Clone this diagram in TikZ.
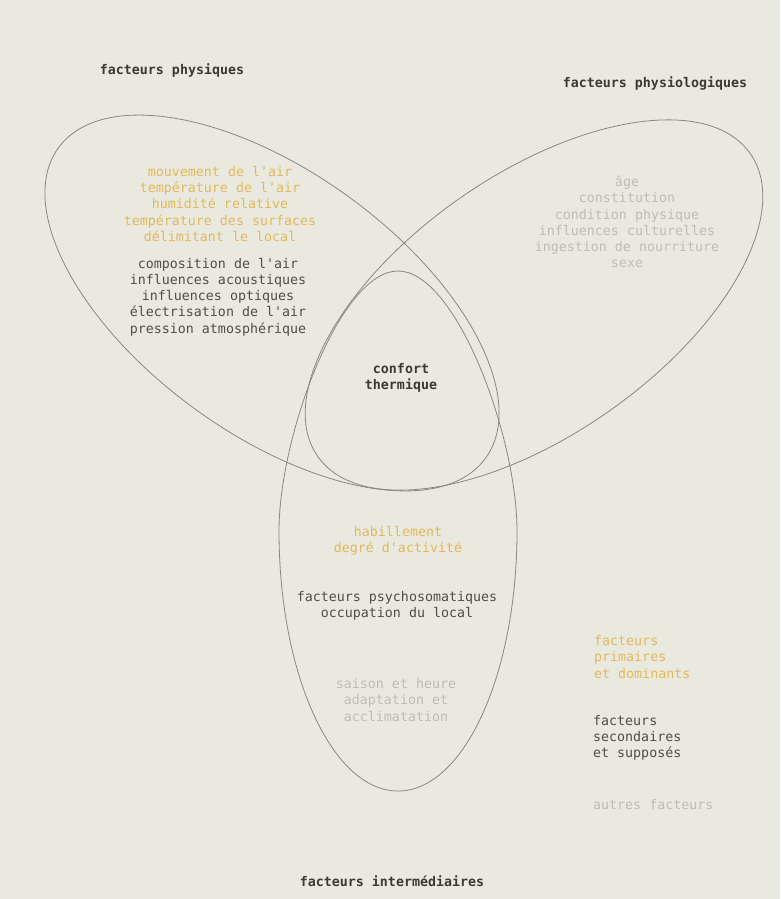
\documentclass[tikz,border=0pt]{standalone}
\usepackage{fontspec}
\setmonofont{DejaVu Sans Mono}
\definecolor{paper}{HTML}{EAE9E0}
\definecolor{linec}{HTML}{8C8778}
\definecolor{primc}{HTML}{E1B95A}
\definecolor{secc}{HTML}{504E46}
\definecolor{othc}{HTML}{BEBCB4}
\definecolor{titlec}{HTML}{3C3A32}
\begin{document}
\begin{tikzpicture}[x=1pt,y=-1pt,
  shapeline/.style={draw=linec, line width=0.8pt},
  body/.style={font=\fontsize{13.3}{16.2}\selectfont\ttfamily, inner sep=0pt, align=center},
  ttl/.style={font=\fontsize{13.3}{16.2}\selectfont\ttfamily\bfseries, inner sep=0pt, text=titlec},
  prim/.style={body, text=primc},
  sec/.style={body, text=secc},
  oth/.style={body, text=othc}]
\fill[paper] (0,0) rectangle (780,899);
\useasboundingbox (0,0) rectangle (780,899);
% left ellipse (physical factors)
\draw[shapeline, rotate around={-36:(272,303)}] (272,303) ellipse[x radius=264, y radius=131];
% right ellipse (physiological factors)
\draw[shapeline, rotate around={35:(534,305)}] (534,305) ellipse[x radius=264, y radius=130];
% bottom egg (intermediate factors)
\draw[shapeline] (279,531) .. controls (279,436) and (340,271) .. (398,271)
  .. controls (456,271) and (517,436) .. (517,531)
  .. controls (517,674) and (464,791) .. (398,791)
  .. controls (332,791) and (279,674) .. (279,531) -- cycle;
% texts
\node[prim] (physA) at (220,204) {mouvement de l'air\\température de l'air\\humidité relative\\température des surfaces\\délimitant le local};
\node[sec] (physB) at (218,297) {composition de l'air\\influences acoustiques\\influences optiques\\électrisation de l'air\\pression atmosphérique};
\node[oth] (physio) at (627,222) {âge\\constitution\\condition physique\\influences culturelles\\ingestion de nourriture\\sexe};
\node[ttl, align=center] (core) at (401,378) {confort\\thermique};
\node[prim] (interA) at (398,541) {habillement\\degré d'activité};
\node[sec] (interB) at (397,606) {facteurs psychosomatiques\\occupation du local};
\node[oth] (interC) at (396,700) {saison et heure\\adaptation et\\acclimatation};
\node[prim, align=left, anchor=west] (legA) at (594,657) {facteurs\\primaires\\et dominants};
\node[sec, align=left, anchor=west] (legB) at (593,738) {facteurs\\secondaires\\et supposés};
\node[oth, anchor=west] (legC) at (593,805) {autres facteurs};
\node[ttl] (t1) at (172,70) {facteurs physiques};
\node[ttl] (t2) at (655,83) {facteurs physiologiques};
\node[ttl] (t3) at (392,881) {facteurs intermédiaires};
\end{tikzpicture}
\end{document}
